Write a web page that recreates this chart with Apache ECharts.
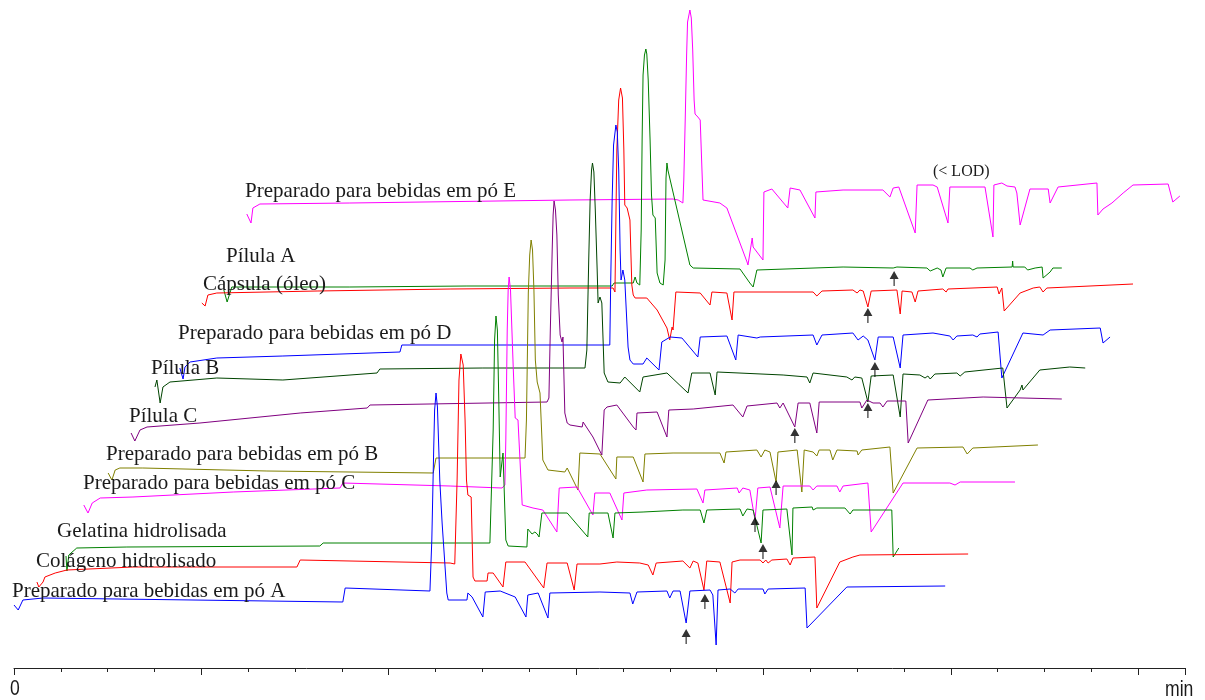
<!DOCTYPE html>
<html>
<head>
<meta charset="utf-8">
<script src="https://cdn.jsdelivr.net/npm/echarts@6/dist/echarts.min.js"></script>
<style>
  html, body { margin: 0; padding: 0; background: #ffffff; }
  #chart { width: 1205px; height: 700px; }
</style>
</head>
<body>
<div id="chart"></div>
<script>
// Retention time (min) and detector response (offset, arbitrary units) for each stacked trace.
const prepA = [[0.00,63],[0.09,58],[0.19,68],[0.62,70],[7.02,66],[7.07,80],[8.88,77],[8.90,78],[8.92,128],[8.96,218],[8.98,258],[9.01,275],[9.04,261],[9.07,218],[9.09,188],[9.14,145],[9.18,143],[9.24,75],[9.27,68],[9.67,68],[9.69,75],[9.78,71],[10.01,51],[10.06,76],[10.38,77],[10.70,71],[10.93,51],[10.97,73],[11.19,75],[11.40,50],[11.44,75],[12.51,76],[13.15,75],[13.21,64],[13.30,76],[13.94,77],[14.00,70],[14.07,77],[14.22,77],[14.35,45],[14.43,77],[14.86,78],[14.92,73],[14.99,23],[15.03,78],[15.29,79],[15.39,75],[15.46,79],[15.99,79],[16.03,74],[16.10,79],[16.89,80],[16.93,40],[17.78,81],[19.88,82]];
const colagenoHidrolisado = [[0.49,86],[0.53,81],[0.62,86],[0.66,91],[0.88,95],[1.13,98],[2.54,101],[6.04,101],[6.11,108],[9.31,105],[9.41,104],[9.46,188],[9.50,288],[9.54,314],[9.59,303],[9.63,248],[9.66,188],[9.69,173],[9.76,171],[9.80,91],[9.84,87],[10.10,87],[10.12,95],[10.23,95],[10.44,81],[10.50,106],[10.91,106],[11.31,80],[11.38,105],[11.81,105],[11.96,78],[12.02,104],[12.51,104],[12.87,106],[13.36,105],[13.54,103],[13.64,93],[13.71,105],[14.28,107],[14.43,100],[14.50,107],[14.60,105],[14.73,78],[14.79,107],[15.07,106],[15.29,65],[15.33,106],[15.50,108],[15.93,108],[15.99,105],[16.05,108],[16.10,105],[16.18,108],[16.50,109],[16.57,103],[16.63,110],[17.10,111],[17.14,60],[17.63,106],[17.91,111],[18.06,113],[20.37,114]];
const gelatinaHidrolisada = [[1.11,112],[1.13,97],[1.17,113],[1.34,120],[2.41,121],[6.53,122],[6.60,125],[10.16,125],[10.23,238],[10.26,328],[10.29,352],[10.32,338],[10.35,268],[10.38,191],[10.44,215],[10.50,128],[10.55,122],[10.95,121],[10.97,139],[11.06,134],[11.12,136],[11.17,134],[11.21,131],[11.27,155],[11.38,155],[11.81,155],[12.25,131],[12.28,155],[12.68,155],[12.79,130],[12.83,155],[13.43,156],[14.28,158],[14.65,158],[14.73,145],[14.79,158],[15.50,159],[15.56,152],[15.65,159],[15.78,158],[15.95,125],[15.99,158],[16.50,159],[16.61,113],[16.63,160],[17.04,161],[17.06,158],[17.14,160],[17.74,160],[17.85,154],[17.91,158],[18.74,158],[18.77,111],[18.89,120]];
const prepC = [[1.49,163],[1.58,155],[1.67,165],[1.84,170],[2.54,171],[4.68,176],[6.96,180],[7.02,185],[9.31,182],[10.42,180],[10.48,183],[10.50,228],[10.53,338],[10.55,378],[10.57,391],[10.60,378],[10.63,338],[10.66,298],[10.70,250],[10.76,248],[10.85,163],[11.08,160],[11.29,158],[11.59,136],[11.64,180],[12.02,181],[12.36,153],[12.40,175],[12.72,175],[12.98,148],[13.02,175],[13.51,178],[14.58,179],[14.71,165],[14.75,178],[15.44,180],[15.48,175],[15.56,180],[15.71,178],[15.82,148],[15.88,180],[16.14,181],[16.35,140],[16.42,182],[16.99,182],[17.06,178],[17.14,182],[17.57,182],[17.63,176],[17.70,182],[18.23,185],[18.30,136],[18.98,185],[19.98,185],[20.09,183],[20.20,186],[21.37,186]];
const prepB = [[2.01,195],[2.09,188],[2.16,198],[2.26,200],[2.75,200],[5.40,197],[8.95,195],[9.01,210],[10.91,210],[10.94,248],[10.98,375],[11.01,413],[11.04,428],[11.07,418],[11.10,378],[11.13,308],[11.17,286],[11.23,275],[11.29,208],[11.40,198],[11.76,196],[11.81,200],[12.04,178],[12.08,215],[12.51,214],[12.85,189],[12.87,211],[13.22,211],[13.43,186],[13.47,214],[14.07,215],[15.07,215],[15.16,205],[15.20,216],[15.86,218],[15.95,211],[16.03,218],[16.14,216],[16.27,186],[16.31,216],[16.72,218],[16.82,176],[16.87,218],[17.06,216],[17.14,212],[17.19,218],[17.42,218],[17.48,208],[17.57,218],[18.00,217],[18.02,213],[18.10,218],[18.70,221],[18.77,175],[19.28,220],[20.26,221],[20.35,214],[20.47,220],[21.86,223]];
const pilulaC = [[2.50,235],[2.58,227],[2.69,238],[2.84,241],[3.97,245],[6.11,255],[7.54,260],[7.60,263],[11.38,266],[11.42,270],[11.45,338],[11.49,418],[11.51,453],[11.53,467],[11.56,458],[11.59,433],[11.62,373],[11.66,333],[11.70,326],[11.72,331],[11.76,255],[11.81,245],[11.87,243],[12.13,241],[12.15,246],[12.36,231],[12.55,213],[12.60,258],[12.66,261],[12.87,263],[13.22,241],[13.28,238],[13.30,255],[13.73,256],[13.94,231],[13.98,258],[14.50,259],[15.35,263],[15.56,251],[15.65,262],[16.29,265],[16.35,260],[16.42,265],[16.67,241],[16.74,265],[16.99,265],[17.14,235],[17.19,266],[18.06,266],[18.10,260],[18.21,268],[18.34,265],[18.49,265],[18.55,261],[18.64,267],[19.04,267],[19.09,225],[19.51,268],[20.69,271],[22.37,269]];
const pilulaB = [[3.01,281],[3.05,288],[3.12,265],[3.18,281],[3.33,286],[4.33,290],[5.74,288],[7.75,295],[7.81,299],[10.01,300],[12.19,300],[12.23,318],[12.27,408],[12.30,468],[12.33,498],[12.35,505],[12.38,496],[12.41,458],[12.45,398],[12.47,365],[12.51,371],[12.55,365],[12.60,295],[12.68,286],[12.94,285],[13.04,291],[13.36,276],[13.43,291],[13.94,295],[14.39,275],[14.47,295],[14.86,295],[14.97,273],[15.01,296],[16.42,293],[16.93,291],[16.99,285],[17.06,295],[17.78,291],[17.89,288],[17.95,291],[18.10,290],[18.23,266],[18.30,292],[18.77,293],[18.92,251],[18.98,294],[19.34,293],[19.45,290],[19.51,292],[19.56,289],[19.66,294],[20.13,295],[20.20,292],[20.30,296],[21.11,300],[21.20,260],[21.48,278],[21.52,283],[21.54,278],[21.90,298],[22.54,301],[22.87,300]];
const prepD = [[3.54,300],[3.61,289],[3.65,301],[3.76,306],[4.33,310],[5.74,312],[8.24,316],[8.28,323],[11.87,323],[12.72,323],[12.74,388],[12.77,468],[12.80,523],[12.85,543],[12.88,536],[12.91,498],[12.94,418],[12.96,388],[13.00,398],[13.04,388],[13.11,321],[13.15,308],[13.22,304],[13.43,304],[13.51,310],[13.77,298],[13.83,326],[14.01,331],[14.26,330],[14.60,311],[14.65,331],[15.22,332],[15.41,308],[15.46,333],[15.86,330],[15.93,331],[17.06,333],[17.14,323],[17.25,333],[17.91,335],[18.02,328],[18.13,332],[18.23,328],[18.38,308],[18.45,331],[18.77,331],[18.92,300],[18.98,333],[19.62,335],[19.98,332],[20.05,328],[20.13,332],[20.47,333],[20.56,331],[20.62,334],[21.01,336],[21.09,290],[21.54,335],[21.97,333],[22.12,338],[23.19,340],[23.25,325],[23.40,331]];
const capsulaOleo = [[4.01,365],[4.08,362],[4.14,373],[4.33,375],[6.47,377],[9.31,379],[11.87,380],[12.79,380],[12.83,376],[12.85,448],[12.87,518],[12.91,568],[12.95,580],[12.99,570],[13.02,518],[13.04,463],[13.09,460],[13.11,462],[13.15,448],[13.19,383],[13.22,373],[13.26,370],[13.51,370],[13.73,358],[13.94,340],[14.00,328],[14.05,341],[14.07,338],[14.13,376],[14.65,375],[14.86,363],[14.90,376],[15.22,375],[15.33,348],[15.37,376],[17.06,376],[17.14,372],[17.25,377],[17.91,378],[18.00,375],[18.06,378],[18.13,377],[18.23,361],[18.30,377],[18.85,378],[18.92,354],[18.96,377],[19.17,376],[19.24,366],[19.30,377],[19.83,379],[19.90,376],[19.94,379],[20.99,381],[21.03,374],[21.09,380],[21.14,357],[21.48,375],[21.76,380],[21.90,381],[21.97,376],[22.05,380],[23.89,384]];
const pilulaA = [[4.48,378],[4.55,366],[4.61,375],[4.65,381],[4.89,381],[7.17,381],[9.67,382],[12.77,382],[12.81,385],[13.22,385],[13.26,391],[13.30,385],[13.36,383],[13.39,438],[13.41,528],[13.43,593],[13.46,613],[13.49,619],[13.51,614],[13.54,588],[13.58,528],[13.61,473],[13.64,453],[13.69,450],[13.73,395],[13.79,385],[13.86,383],[13.90,408],[13.92,490],[13.94,505],[13.96,498],[14.43,403],[14.50,400],[15.50,399],[15.71,385],[15.78,381],[15.86,398],[17.70,401],[18.77,400],[18.85,401],[19.49,400],[19.56,397],[19.71,400],[19.79,398],[19.83,391],[19.90,400],[20.41,400],[20.47,398],[20.56,400],[21.31,401],[21.32,407],[21.33,401],[21.58,401],[21.64,398],[21.80,400],[21.95,401],[21.97,390],[22.12,396],[22.18,400],[22.37,400]];
const prepE = [[4.97,454],[5.06,445],[5.10,460],[5.25,464],[7.17,465],[11.87,468],[14.07,469],[14.18,468],[14.28,465],[14.30,488],[14.33,548],[14.36,613],[14.38,646],[14.43,658],[14.46,650],[14.49,618],[14.52,568],[14.54,554],[14.60,551],[14.65,548],[14.71,468],[15.07,465],[15.22,460],[15.65,406],[15.67,403],[15.76,430],[15.78,421],[15.99,408],[16.01,476],[16.18,479],[16.52,460],[16.57,480],[16.78,478],[17.10,450],[17.12,476],[17.70,478],[18.55,478],[18.70,471],[18.77,480],[18.89,481],[19.24,435],[19.28,483],[19.62,483],[19.71,481],[19.94,445],[19.98,481],[20.73,481],[20.90,431],[20.92,483],[21.09,485],[21.20,482],[21.37,481],[21.41,475],[21.48,443],[21.69,479],[22.08,479],[22.12,465],[22.29,481],[23.12,485],[23.14,453],[23.25,459],[23.44,465],[23.68,475],[23.89,483],[24.64,484],[24.74,466],[24.79,468],[24.89,472]];

// Peak markers (arrow tips) in the same time / response units.
const peakMarkers = [[14.35,39],[14.75,74],[15.82,151],[15.99,124],[16.27,188],[16.67,240],[18.23,265],[18.38,306],[18.23,360],[18.79,397]];

const sampleNames = [
  'Preparado para bebidas em pó A', 'Colágeno hidrolisado', 'Gelatina hidrolisada',
  'Preparado para bebidas em pó C', 'Preparado para bebidas em pó B', 'Pílula C',
  'Pílula B', 'Preparado para bebidas em pó D', 'Cápsula (óleo)', 'Pílula A',
  'Preparado para bebidas em pó E'
];
const sampleData = [prepA, colagenoHidrolisado, gelatinaHidrolisada, prepC, prepB, pilulaC, pilulaB, prepD, capsulaOleo, pilulaA, prepE];
const axisTickLabels = ['0'];
const axisUnit = 'min';
const lodNote = '(< LOD)';

// Drawing styles
const traceColors = ['#0000ff', '#ff0000', '#008000', '#ff00ff', '#808000', '#800080', '#004400', '#0000ff', '#ff0000', '#008000', '#ff00ff'];
// Name label placement (left px, text middle px)
const nameLayout = [[12,591],[36,561],[57,531],[83,483],[106,454],[129,416],[151,368],[178,333],[203,284],[226,256],[245,191]];

const chart = echarts.init(document.getElementById('chart'), null, { renderer: 'canvas' });

const series = [];
for (let i = sampleData.length - 1; i >= 0; i--) {
  series.push({
    name: sampleNames[i],
    type: 'line',
    data: sampleData[i],
    showSymbol: false,
    symbol: 'none',
    clip: false,
    lineStyle: { color: traceColors[i], width: 1 },
    z: 2
  });
}
series.push({
  name: 'marcadores',
  type: 'scatter',
  data: peakMarkers,
  symbol: 'path://M4.5,0 L9,8 L5.1,8 L5.1,15 L3.9,15 L3.9,8 L0,8 Z',
  symbolSize: [9, 15],
  symbolOffset: [0, '50%'],
  itemStyle: { color: '#000000' },
  z: 5
});

const serif = '"Liberation Serif", "Times New Roman", serif';
const sans = '"Liberation Sans", Arial, sans-serif';

const graphics = sampleNames.map((name, i) => ({
  type: 'text',
  x: nameLayout[i][0],
  y: nameLayout[i][1],
  z: 10,
  style: {
    text: name,
    font: '21px ' + serif,
    fill: '#1a1a1a',
    verticalAlign: 'middle',
    align: 'left'
  }
}));
graphics.push({
  type: 'text', x: 933, y: 172, z: 10,
  style: { text: lodNote, font: '16px ' + serif, fill: '#1a1a1a', verticalAlign: 'middle', align: 'left' }
});
// condensed look for the axis texts
graphics.push({
  type: 'text', x: 1165, y: 690, scaleX: 0.8, z: 10,
  style: { text: axisUnit, font: '22px ' + sans, fill: '#1a1a1a', verticalAlign: 'middle', align: 'left' }
});
graphics.push({
  type: 'text', x: 15, y: 689, scaleX: 0.8, z: 10,
  style: { text: axisTickLabels[0], font: '22px ' + sans, fill: '#1a1a1a', verticalAlign: 'middle', align: 'center' }
});

chart.setOption({
  animation: false,
  backgroundColor: '#ffffff',
  grid: { left: 14, right: 20, top: 0, bottom: 32, containLabel: false },
  xAxis: {
    type: 'value',
    min: 0,
    max: 25,
    interval: 4,
    axisLine: { show: true, onZero: false, lineStyle: { color: '#222222', width: 1 } },
    axisTick: { show: true, inside: false, length: 7, lineStyle: { color: '#222222', width: 1 } },
    minorTick: { show: true, splitNumber: 4, length: 4, lineStyle: { color: '#222222', width: 1 } },
    splitLine: { show: false },
    minorSplitLine: { show: false },
    axisLabel: { show: false }
  },
  yAxis: {
    type: 'value',
    min: 0,
    max: 668,
    show: false
  },
  series: series,
  graphic: graphics
});
</script>
</body>
</html>
